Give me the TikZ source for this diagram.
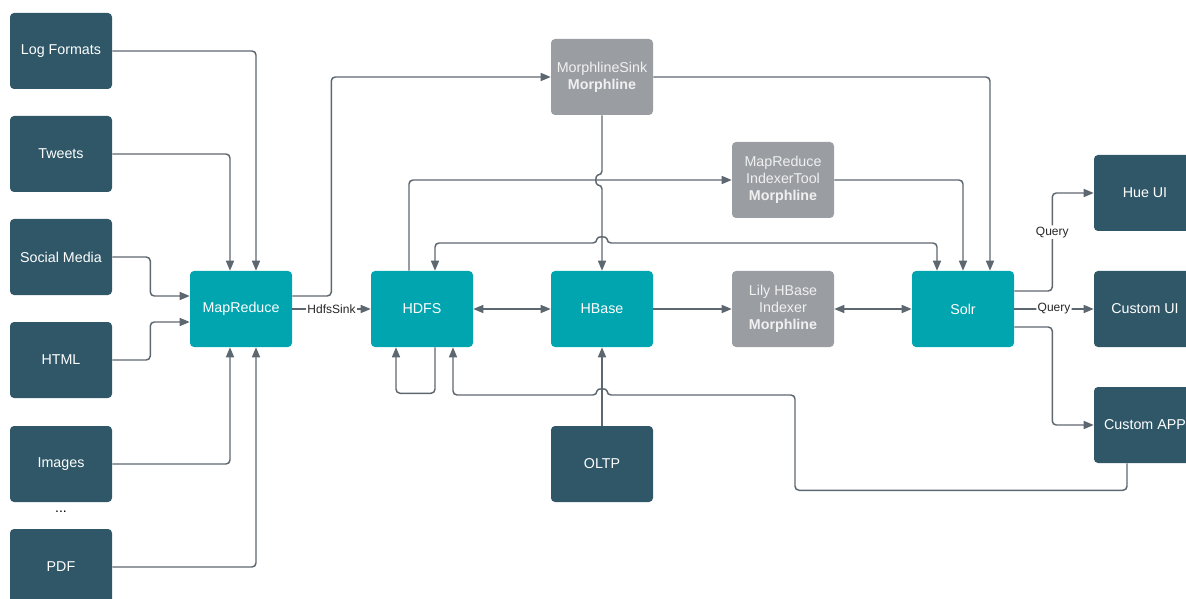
\documentclass[tikz,border=0pt]{standalone}
\usepackage{fontspec}
\setmainfont{Liberation Sans}
\usetikzlibrary{arrows.meta,calc}
\definecolor{darkbox}{HTML}{2F5768}
\definecolor{tealbox}{HTML}{00A5B0}
\definecolor{graybox}{HTML}{9A9EA3}
\definecolor{linecol}{HTML}{5D6770}
\begin{document}
\begin{tikzpicture}[x=0.75pt,y=-0.75pt,
  box/.style={rectangle,rounded corners=3pt,minimum width=76.5pt,minimum height=57pt,inner sep=0pt,
    text=white,align=center,font=\fontsize{10.7}{12.75}\selectfont},
  dbox/.style={box,fill=darkbox},
  tbox/.style={box,fill=tealbox},
  gbox/.style={box,fill=graybox,text=white!94!black},
  conn/.style={draw=linecol,line width=1.1pt,rounded corners=3pt,-{Triangle[length=7.5pt,width=6pt]}},
  bconn/.style={conn,{Triangle[length=7.5pt,width=6pt]}-{Triangle[length=7.5pt,width=6pt]}},
  lbl/.style={fill=white,inner sep=1pt,text=black!85,font=\fontsize{9}{10}\selectfont}]
\useasboundingbox (0,0) rectangle (1186,599);
% left column
\node[dbox] (log) at (61,51) {Log Formats};
\node[dbox] (tw) at (61,154) {Tweets};
\node[dbox] (sm) at (61,257) {Social Media};
\node[dbox] (html) at (61,360) {HTML};
\node[dbox] (img) at (61,464) {Images};
\node[text=black,font=\fontsize{10.5}{12}\selectfont] (dots) at (61,512) {...};
\node[dbox] (pdf) at (61,567) {PDF};
% main row
\node[tbox] (mr) at (241,309) {MapReduce};
\node[tbox] (hdfs) at (422,309) {HDFS};
\node[tbox] (hbase) at (602,309) {HBase};
\node[gbox] (lily) at (783,309) {Lily HBase\\Indexer\\\textbf{Morphline}};
\node[tbox] (solr) at (963,309) {Solr};
\node[gbox] (ms) at (602,77) {MorphlineSink\\\textbf{Morphline}};
\node[gbox] (idx) at (783,180) {MapReduce\\IndexerTool\\\textbf{Morphline}};
\node[dbox] (oltp) at (602,464) {OLTP};
\node[dbox] (hue) at (1145,193) {Hue UI};
\node[dbox] (cui) at (1145,309) {Custom UI};
\node[dbox] (capp) at (1145,425) {Custom APP};
% sources to MapReduce
\draw[conn] (log.east) -| ($(mr.north)+(15,0)$);
\draw[conn] (tw.east) -| ($(mr.north)+(-11,0)$);
\draw[conn] (sm.east) -- ++(38,0) |- ($(mr.west)+(0,-13)$);
\draw[conn] (html.east) -- ++(38,0) |- ($(mr.west)+(0,13)$);
\draw[conn] (img.east) -| ($(mr.south)+(-11,0)$);
\draw[conn] (pdf.east) -| ($(mr.south)+(15,0)$);
% MapReduce outputs
\draw[conn] ($(mr.east)+(0,-13)$) -- ++(39,0) |- (ms.west);
\draw[conn] (mr.east) -- node[lbl]{HdfsSink} (hdfs.west);
% MorphlineSink
\draw[conn] (ms.east) -| ($(solr.north)+(27,0)$);
\coordinate (hopA) at (602,180);
\draw[conn] (ms.south) -- ($(hopA)+(0,-5)$) .. controls ($(hopA)+(-7,-5)$) and ($(hopA)+(-7,5)$) .. ($(hopA)+(0,5)$) -- (hbase.north);
% HDFS -> IndexerTool -> Solr
\draw[conn] ($(hdfs.north)+(-13,0)$) |- (idx.west);
\draw[conn] (idx.east) -| (solr.north);
% Solr <-> HDFS with hop
\coordinate (hopB) at (602,243);
\draw[bconn] ($(solr.north)+(-26,0)$) |- ($(hopB)+(5,0)$) .. controls ($(hopB)+(5,-7)$) and ($(hopB)+(-5,-7)$) .. ($(hopB)+(-5,0)$) -| ($(hdfs.north)+(13,0)$);
% main row links
\draw[bconn] (hdfs.east) -- (hbase.west);
\draw[conn] (hbase.east) -- (lily.west);
\draw[bconn] (lily.east) -- (solr.west);
% HDFS self loop
\draw[conn] ($(hdfs.south)+(13,0)$) -- ++(0,46) -| ($(hdfs.south)+(-26,0)$);
% OLTP
\draw[conn] (oltp.north) -- (hbase.south);
% Custom APP -> HDFS
\coordinate (hopC) at (602,395);
\draw[conn] ($(capp.south)+(-18,0)$) -- ++(0,27) -| (795,395) -- ($(hopC)+(5,0)$) .. controls ($(hopC)+(5,-7)$) and ($(hopC)+(-5,-7)$) .. ($(hopC)+(-5,0)$) -| ($(hdfs.south)+(31,0)$);
% Solr -> clients
\draw[conn] ($(solr.east)+(0,-18)$) -- ++(38,0) |- node[lbl,pos=0.3]{Query} (hue.west);
\draw[conn] (solr.east) -- node[lbl]{Query} (cui.west);
\draw[conn] ($(solr.east)+(0,18)$) -- ++(38,0) |- (capp.west);
\end{tikzpicture}
\end{document}
